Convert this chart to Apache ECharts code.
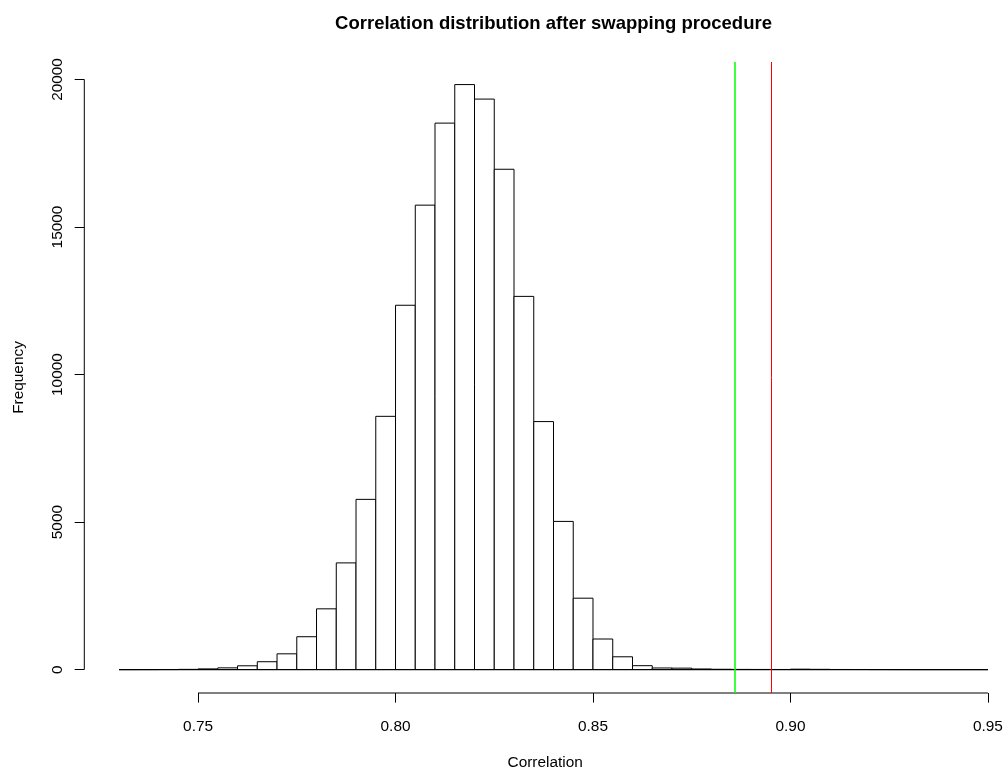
<!DOCTYPE html>
<html>
<head>
<meta charset="utf-8">
<script src="https://cdn.jsdelivr.net/npm/echarts@6/dist/echarts.min.js"></script>
<style>
  html, body { margin: 0; padding: 0; background: #fff; }
  #chart { width: 1006px; height: 775px; }
</style>
</head>
<body>
<div id="chart"></div>
<script>
// Histogram bins (left edges) of the correlation after swapping
const binStarts = [
  0.730, 0.735, 0.740, 0.745, 0.750, 0.755, 0.760, 0.765, 0.770, 0.775,
  0.780, 0.785, 0.790, 0.795, 0.800, 0.805, 0.810, 0.815, 0.820, 0.825,
  0.830, 0.835, 0.840, 0.845, 0.850, 0.855, 0.860, 0.865, 0.870, 0.875,
  0.880, 0.885, 0.890, 0.895, 0.900, 0.905, 0.910, 0.915, 0.920, 0.925,
  0.930, 0.935, 0.940, 0.945
];
const binWidth = 0.005;
const counts = [
  0, 1, 3, 9, 25, 60, 130, 268, 536, 1115,
  2060, 3617, 5770, 8584, 12348, 15741, 18521, 19827, 19335, 16957,
  12649, 8406, 5023, 2421, 1038, 435, 134, 56, 50, 22,
  12, 8, 6, 5, 15, 10, 5, 4, 2, 1,
  0, 0, 0, 0
];
// Reference values drawn as vertical lines
const greenLineValue = 0.8858;
const redLineValue = 0.8951;

// Axis ticks
const xTicks = [0.75, 0.80, 0.85, 0.90, 0.95];
const yTicks = [0, 5000, 10000, 15000, 20000];

// Plot ranges (range of the data padded by 4% on each side)
const xRange = [0.73, 0.95];
const yRange = [0, 19800];
const xPad = (xRange[1] - xRange[0]) * 0.04;
const yPad = (yRange[1] - yRange[0]) * 0.04;
const xMin = xRange[0] - xPad, xMax = xRange[1] + xPad;
const yMin = yRange[0] - yPad, yMax = yRange[1] + yPad;

// The plot region runs past the right edge of the canvas; the visible
// part ends at the canvas edge.
const GRID_LEFT = 84.3, GRID_FULL_WIDTH = 938.4, CANVAS_W = 1006;
const xVisibleMax = xMin + (CANVAS_W - GRID_LEFT) / GRID_FULL_WIDTH * (xMax - xMin);

const FONT = '"Liberation Sans", Arial, Helvetica, sans-serif';
const BASE = 15.4;

const histData = binStarts.map((s, i) => [s, s + binWidth, counts[i]]);

const chart = echarts.init(document.getElementById('chart'), null, { renderer: 'canvas' });

chart.setOption({
  backgroundColor: '#ffffff',
  animation: false,
  graphic: [{
    type: 'text',
    x: 553.5,
    y: 14,
    style: {
      text: 'Correlation distribution after swapping procedure',
      font: 'bold 18.5px ' + FONT,
      fill: '#000',
      align: 'center',
      verticalAlign: 'top'
    }
  }],
  grid: { left: GRID_LEFT, top: 62, right: 0, height: 638.6, containLabel: false },
  xAxis: {
    type: 'value',
    min: xMin,
    max: xVisibleMax,
    name: 'Correlation',
    nameLocation: 'middle',
    nameGap: 62,
    nameTextStyle: { fontFamily: FONT, fontSize: BASE, color: '#000' },
    axisLine: { show: false, onZero: false },
    splitLine: { show: false },
    axisTick: {
      show: true,
      customValues: xTicks,
      length: 9.6,
      lineStyle: { color: '#000', width: 1 }
    },
    axisLabel: {
      show: true,
      customValues: xTicks,
      margin: 26,
      fontFamily: FONT,
      fontSize: BASE,
      color: '#000',
      formatter: v => v.toFixed(2)
    }
  },
  yAxis: {
    type: 'value',
    min: yMin,
    max: yMax,
    name: 'Frequency',
    nameLocation: 'middle',
    nameGap: 58,
    nameRotate: 90,
    nameTextStyle: { fontFamily: FONT, fontSize: BASE, color: '#000' },
    axisLine: { show: false, onZero: false },
    splitLine: { show: false },
    axisTick: {
      show: true,
      customValues: yTicks,
      length: 9.6,
      lineStyle: { color: '#000', width: 1 }
    },
    axisLabel: {
      show: true,
      customValues: yTicks,
      rotate: 90,
      margin: 19,
      fontFamily: FONT,
      fontSize: BASE,
      color: '#000',
      formatter: v => String(v)
    }
  },
  series: [
    {
      // histogram bars
      type: 'custom',
      data: histData,
      encode: { x: [0, 1], y: 2 },
      clip: false,
      renderItem: function (params, api) {
        const top = api.coord([api.value(0), api.value(2)]);
        const bot = api.coord([api.value(1), 0]);
        return {
          type: 'rect',
          shape: { x: top[0], y: top[1], width: bot[0] - top[0], height: bot[1] - top[1] },
          style: { fill: '#ffffff', stroke: '#000000', lineWidth: 1 }
        };
      },
      markLine: {
        silent: true,
        symbol: 'none',
        precision: 6,
        label: { show: false },
        data: [
          { xAxis: greenLineValue, lineStyle: { color: '#00ff00', width: 1.5, type: 'solid' } },
          { xAxis: redLineValue, lineStyle: { color: '#ff0000', width: 1, type: 'solid' } }
        ]
      }
    },
    {
      // baseline under the bins
      type: 'line',
      data: [[xRange[0], 0], [xRange[1], 0]],
      symbol: 'none',
      silent: true,
      lineStyle: { color: '#000', width: 1 },
      z: 3
    },
    {
      // x axis line spanning the tick range
      type: 'line',
      data: [[xTicks[0], yMin], [xTicks[xTicks.length - 1], yMin]],
      symbol: 'none',
      silent: true,
      clip: false,
      lineStyle: { color: '#000', width: 1 }
    },
    {
      // y axis line spanning the tick range
      type: 'line',
      data: [[xMin, yTicks[0]], [xMin, yTicks[yTicks.length - 1]]],
      symbol: 'none',
      silent: true,
      clip: false,
      lineStyle: { color: '#000', width: 1 }
    }
  ]
});
</script>
</body>
</html>
